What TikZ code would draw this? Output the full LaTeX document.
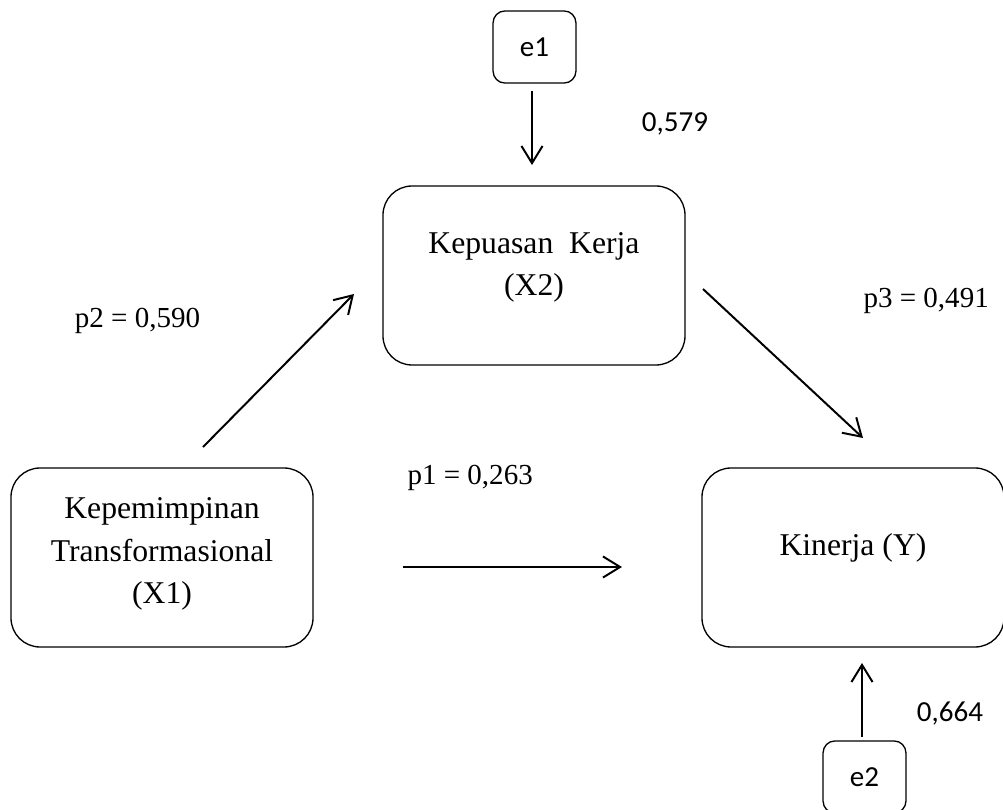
\documentclass[tikz,border=0pt]{standalone}
\usepackage{fontspec}
\setmainfont{Liberation Serif}
\newfontfamily\calibrifont{Carlito}
\usetikzlibrary{arrows.meta,calc}

\begin{document}
\begin{tikzpicture}[
  x=0.3788pt, y=-0.3788pt,
  varbox/.style={draw, line width=0.5pt, rounded corners=11pt, minimum width=114.4pt, minimum height=67.8pt, inner sep=0pt, outer sep=0pt},
  errbox/.style={draw, line width=0.5pt, rounded corners=4.5pt, minimum width=31.4pt, minimum height=27.3pt, inner sep=0pt, outer sep=0pt, font=\calibrifont\fontsize{11}{13}\selectfont},
  vartext/.style={align=center, inner sep=0pt, font=\fontsize{12}{16}\selectfont},
  coef/.style={inner sep=0pt, font=\fontsize{11}{13}\selectfont},
  coefsans/.style={inner sep=0pt, font=\calibrifont\fontsize{11}{13}\selectfont},
  arrowline/.style={line width=0.75pt, -{Straight Barb[length=6.5pt, width=8pt]}}
]
  \useasboundingbox (0,0) rectangle (1003,810);

  % === ERROR TERMS ===
  \node[errbox] (e1) at (534.5, 47) {e1};
  \node[errbox] (e2) at (864.5, 777) {e2};

  % === VARIABLES ===
  \node[varbox] (x2) at (534, 275.5) {};
  \node[vartext] (x2txt) at ($(x2.center)+(0,-8)$) {Kepuasan~~Kerja\\(X2)};

  \node[varbox] (x1) at (162, 557.5) {};
  \node[vartext] (x1txt) at ($(x1.center)+(0,-3.5)$) {Kepemimpinan\\Transformasional\\(X1)};

  \node[varbox] (y) at (853, 557.5) {};
  \node[vartext, anchor=base] (ytxt) at ($(y.center)+(0,-2)$) {Kinerja (Y)};

  % === PATHS ===
  \draw[arrowline] ($(e1.south)+(-2.5,8)$) -- ($(x2.north)+(-2,-21)$);
  \draw[arrowline] ($(x1.north)+(41,-21)$) -- ($(x2.west)+(-29,18.5)$);
  \draw[arrowline] ($(x2.east)+(18,13.5)$) -- ($(y.north)+(10,-30)$);
  \draw[arrowline] ($(x1.east)+(90,9.5)$) -- ($(y.west)+(-80,9.5)$);
  \draw[arrowline] ($(e2.north)+(-2.5,-4)$) -- ($(y.south)+(9,16)$);

  % === COEFFICIENTS ===
  \node[coefsans, anchor=base] (c579) at (675, 132) {0,579};
  \node[coefsans, anchor=base] (c664) at (950, 721) {0,664};
  \node[coef, anchor=base] (p2lbl) at (137.5, 328) {p2 = 0,590};
  \node[coef, anchor=base west] (p3lbl) at (863, 308) {p3 = 0,491};
  \node[coef, anchor=base west] (p1lbl) at (407, 485) {p1 = 0,263};
\end{tikzpicture}
\end{document}
